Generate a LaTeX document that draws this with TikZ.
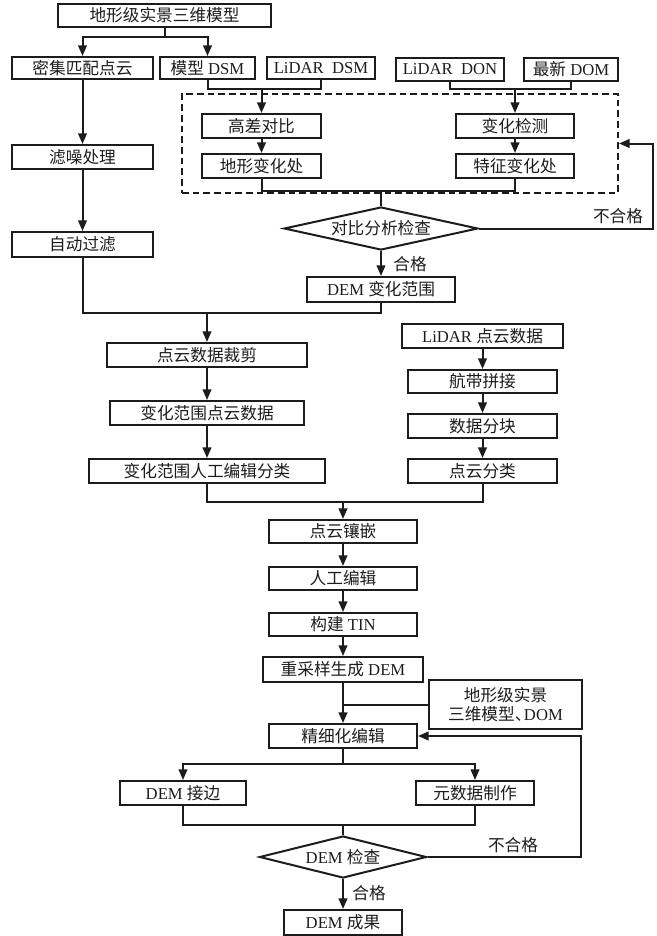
\documentclass[tikz,border=0pt]{standalone}
\usepackage{fontspec}
\setmainfont{Liberation Serif}
\newfontfamily\cjk{Noto Sans CJK SC}
\usetikzlibrary{arrows.meta,shapes.geometric}
\definecolor{lc}{HTML}{1C1C1C}
\newcommand\zh[1]{{\cjk #1}}
\newcommand\bx[7][]{%
  \pgfmathsetmacro\bw{(#5-#3)*0.75}%
  \pgfmathsetmacro\bh{(#6-#4)*0.75}%
  \node[box,#1,minimum width=\bw pt,minimum height=\bh pt] (#2) at ({(#3+#5)/2},{(#4+#6)/2}) {#7};}
\begin{document}
\begin{tikzpicture}[x=0.75pt,y=-0.75pt,
  box/.style={draw=lc,line width=1.5pt,inner sep=0pt,text=lc,font=\fontsize{12.5}{15}\selectfont},
  wire/.style={draw=lc,line width=1.5pt},
  arr/.style={draw=lc,line width=1.5pt,-{Triangle[length=8pt,width=6.5pt]}},
  lbl/.style={inner sep=0pt,text=lc,font=\fontsize{12.5}{15}\selectfont},
  dia/.style={draw=lc,line width=1.5pt,diamond,inner sep=0pt,shape aspect=4}]
\useasboundingbox (0,0) rectangle (657,936);
% top section
\bx{t0}{58}{4}{271}{27}{\zh{地形级实景三维模型}}
\bx{dense}{12}{57}{153}{79}{\zh{密集匹配点云}}
\bx{mdsm}{160}{57}{255}{79}{\zh{模型} DSM}
\bx{ldsm}{267}{57}{375}{79}{LiDAR\hspace{0.5em}DSM}
\bx{ldon}{396}{58}{504}{81}{LiDAR\hspace{0.5em}DON}
\bx{ndom}{524}{58}{618}{81}{\zh{最新} DOM}
\bx[dashed,dash pattern=on 5pt off 3pt]{dbox}{182}{94}{618}{193}{}
\bx{gc}{202}{114}{321}{138}{\zh{高差对比}}
\bx{dx}{202}{154}{321}{178}{\zh{地形变化处}}
\bx{bh}{456}{114}{574}{138}{\zh{变化检测}}
\bx{tz}{456}{154}{574}{178}{\zh{特征变化处}}
\pgfmathsetmacro\dwa{194*0.75}\pgfmathsetmacro\dha{43*0.75}
\node[dia,minimum width=\dwa pt,minimum height=\dha pt,label={[lbl]center:\zh{对比分析检查}}] (d1) at (381,228.5) {};
\bx{rng}{307}{277}{455}{302}{DEM \zh{变化范围}}
\bx{lz}{12}{145}{153}{169}{\zh{滤噪处理}}
\bx{zd}{12}{232}{153}{257}{\zh{自动过滤}}
% middle
\bx{cj}{107}{343}{307}{367}{\zh{点云数据裁剪}}
\bx{fwd}{110}{401}{304}{425}{\zh{变化范围点云数据}}
\bx{rgc}{89}{459}{325}{483}{\zh{变化范围人工编辑分类}}
\bx{lpc}{402}{324}{563}{348}{LiDAR \zh{点云数据}}
\bx{hd}{408}{370}{557}{393}{\zh{航带拼接}}
\bx{fk}{408}{414}{557}{438}{\zh{数据分块}}
\bx{dyf}{408}{459}{557}{483}{\zh{点云分类}}
% lower
\bx{xq}{269}{520}{417}{543}{\zh{点云镶嵌}}
\bx{rg}{269}{567}{417}{590}{\zh{人工编辑}}
\bx{tin}{269}{613}{417}{636}{\zh{构建} TIN}
\bx{cy}{263}{657}{423}{682}{\zh{重采样生成} DEM}
\bx[align=center,font=\fontsize{12.5}{14}\selectfont]{dm}{429}{680}{582}{729}{\zh{地形级实景}\\\zh{三维模型、}\kern-0.45em DOM}
\bx{jx}{269}{724}{417}{748}{\zh{精细化编辑}}
\bx{jb}{120}{781}{246}{805}{DEM \zh{接边}}
\bx{ysj}{416}{781}{534}{805}{\zh{元数据制作}}
\pgfmathsetmacro\dwb{167*0.75}\pgfmathsetmacro\dhb{42*0.75}
\node[dia,minimum width=\dwb pt,minimum height=\dhb pt,label={[lbl]center:DEM \zh{检查}}] (d2) at (343,857) {};
\bx{cg}{284}{910}{402}{935}{DEM \zh{成果}}
% connectors top
\coordinate (j0) at (164.5,37);
\draw[wire] (t0.south) -- (j0);
\draw[arr] (j0) -| (dense.north);
\draw[arr] (j0) -| (mdsm.north);
\coordinate (j1) at (261.5,89);
\draw[wire] (mdsm.south) |- (j1) -| (ldsm.south);
\draw[arr] (j1) -- (gc.north);
\coordinate (j2) at (515,89);
\draw[wire] (ldon.south) |- (j2) -| (ndom.south);
\draw[arr] (j2) -- (bh.north);
\draw[arr] (gc) -- (dx);
\draw[arr] (bh) -- (tz);
\coordinate (j3) at (381,191);
\draw[wire] (dx.south) |- (j3) -| (tz.south);
\draw[wire] (j3) -- (d1.north);
\draw[arr] (d1.south) -- (rng.north);
\node[lbl] (ok1) at (410,264) {\zh{合格}};
\coordinate (f1) at (653,228.5);
\draw[arr] (d1.east) -- (f1) |- (dbox.east);
\node[lbl] (no1) at (618,216) {\zh{不合格}};
% left column
\draw[arr] (dense) -- (lz);
\draw[arr] (lz) -- (zd);
\coordinate (j4) at (207,313);
\draw[wire] (zd.south) |- (j4) -| (rng.south);
\draw[arr] (j4) -- (cj.north);
\draw[arr] (cj) -- (fwd);
\draw[arr] (fwd) -- (rgc);
\draw[arr] (lpc) -- (hd);
\draw[arr] (hd) -- (fk);
\draw[arr] (fk) -- (dyf);
\coordinate (j5) at (343,502);
\draw[wire] (rgc.south) |- (j5) -| (dyf.south);
\draw[arr] (j5) -- (xq.north);
\draw[arr] (xq) -- (rg);
\draw[arr] (rg) -- (tin);
\draw[arr] (tin) -- (cy);
\draw[arr] (cy) -- (jx);
\draw[wire] (dm.west) -- (dm.west -| cy.south);
\coordinate (j6) at (343,764);
\draw[wire] (jx.south) -- (j6);
\draw[arr] (j6) -| (jb.north);
\draw[arr] (j6) -| (ysj.north);
\coordinate (j7) at (343,825);
\draw[wire] (jb.south) |- (j7) -| (ysj.south);
\draw[wire] (j7) -- (d2.north);
\draw[arr] (d2.south) -- (cg.north);
\node[lbl] (ok2) at (369,893) {\zh{合格}};
\coordinate (f2) at (581,857);
\draw[arr] (d2.east) -- (f2) |- (jx.east);
\node[lbl] (no2) at (513,845) {\zh{不合格}};
\end{tikzpicture}
\end{document}
